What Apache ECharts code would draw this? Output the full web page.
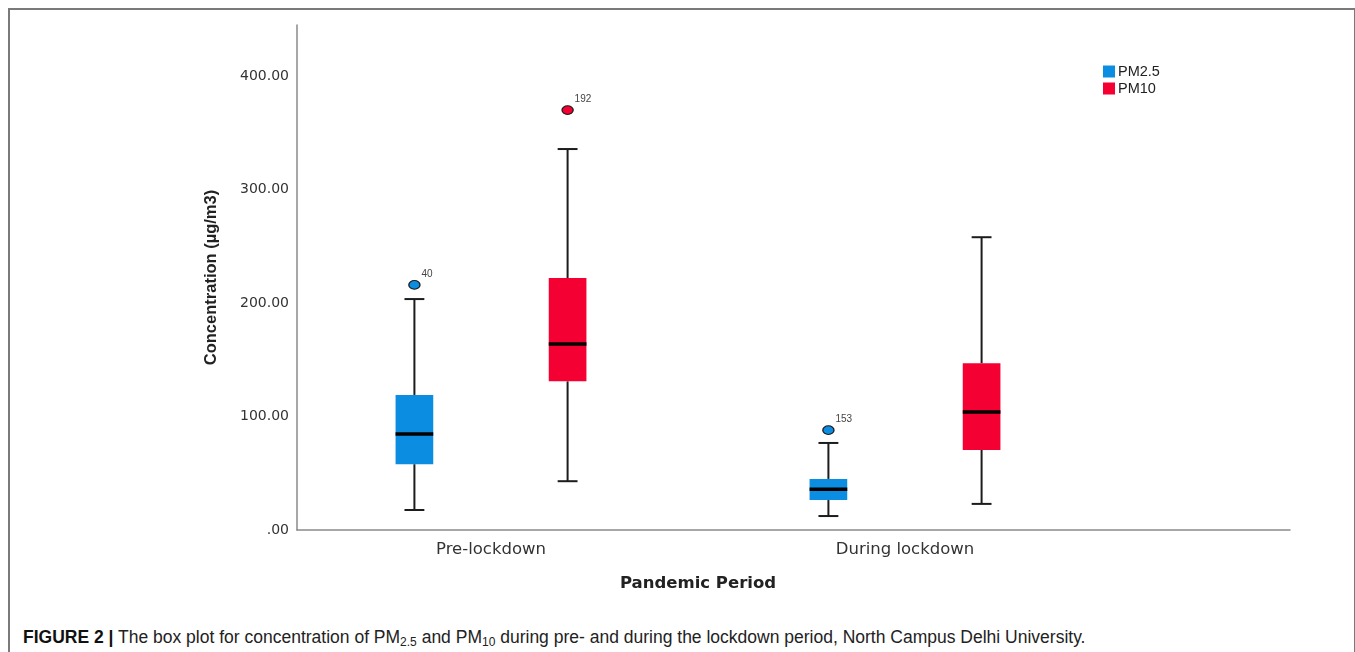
<!DOCTYPE html>
<html>
<head>
<meta charset="utf-8">
<title>PM2.5 and PM10 box plot</title>
<script src="https://cdn.jsdelivr.net/npm/echarts@6/dist/echarts.min.js"></script>
<style>
  html, body { margin: 0; padding: 0; background: #fff; }
  #wrap { position: relative; width: 1355px; height: 652px; overflow: hidden; }
  #frame {
    position: absolute; left: 8px; top: 8px; width: 1344px; height: 660px;
    border-top: 2px solid #7a7a7a; border-left: 2px solid #7a7a7a; border-right: 2px solid #7a7a7a;
  }
  #chart { position: absolute; left: 0; top: 0; width: 1355px; height: 610px; }
  #caption {
    position: absolute; left: 23px; top: 627px; white-space: nowrap;
    font-family: 'Liberation Sans', Arial, sans-serif; font-size: 17.5px; color: #222;
  }
  #caption b { font-weight: bold; color: #111; }
  #caption sub { font-size: 12px; vertical-align: -3px; line-height: 0; }
</style>
</head>
<body>
<div id="wrap">
  <div id="frame"></div>
  <div id="chart"></div>
  <div id="caption"><b>FIGURE 2 |</b> The box plot for concentration of PM<sub>2.5</sub> and PM<sub>10</sub> during pre- and during the lockdown period, North Campus Delhi University.</div>
</div>
<script>
// Pandemic periods on the horizontal axis
const categories = ['Pre-lockdown', 'During lockdown'];
const seriesNames = ['PM2.5', 'PM10'];
const seriesColors = ['#0b8ee2', '#f50032'];

// Box statistics per period: [min whisker, Q1, median, Q3, max whisker] (µg/m3)
const pm25Stats = [
  [17.6, 58.0, 84.6, 119.0, 203.5],
  [12.3, 26.4, 36.0, 45.0, 76.7]
];
const pm10Stats = [
  [43.0, 131.0, 164.0, 222.0, 335.7],
  [23.0, 70.5, 104.0, 147.0, 258.0]
];

// Outlying cases: [period index, value, case number]
const pm25Outliers = [
  [0, 216.0, '40'],
  [1, 88.0, '153']
];
const pm10Outliers = [
  [0, 370.0, '192']
];

// Value axis range and labelled ticks
const yMin = 0;
const yMax = 445;
const yTickStep = 100;

// Box layout as fractions of one category band
const DODGE = 0.185;   // offset of each box from the band centre
const BOX_W = 0.091;   // box width
const CAP_W = 0.048;   // whisker cap width
const INK = '#1c1c1c';

function boxRenderer(sign, color) {
  return function (params, api) {
    const cat = api.value(0);
    const band = api.size([1, 0])[0];
    const cx = api.coord([cat, 0])[0] + sign * band * DODGE;
    const hw = band * BOX_W / 2;
    const cw = band * CAP_W / 2;
    const y = [1, 2, 3, 4, 5].map(function (d) { return api.coord([cat, api.value(d)])[1]; });
    const lineStyle = { stroke: INK, lineWidth: 2 };
    return {
      type: 'group',
      children: [
        { type: 'line', shape: { x1: cx, y1: y[4], x2: cx, y2: y[3] }, style: lineStyle },
        { type: 'line', shape: { x1: cx, y1: y[1], x2: cx, y2: y[0] }, style: lineStyle },
        { type: 'line', shape: { x1: cx - cw, y1: y[4], x2: cx + cw, y2: y[4] }, style: lineStyle },
        { type: 'line', shape: { x1: cx - cw, y1: y[0], x2: cx + cw, y2: y[0] }, style: lineStyle },
        { type: 'rect', shape: { x: cx - hw, y: y[3], width: hw * 2, height: y[1] - y[3] }, style: { fill: color } },
        { type: 'line', shape: { x1: cx - hw, y1: y[2], x2: cx + hw, y2: y[2] }, style: { stroke: '#000', lineWidth: 3.5 } }
      ]
    };
  };
}

function outlierRenderer(sign, color, list) {
  return function (params, api) {
    const cat = api.value(0);
    const band = api.size([1, 0])[0];
    const p = api.coord([cat, api.value(1)]);
    const cx = p[0] + sign * band * DODGE;
    return {
      type: 'group',
      children: [
        { type: 'circle', x: cx, y: p[1], scaleY: 0.78, shape: { cx: 0, cy: 0, r: 5.6 },
          style: { fill: color, stroke: INK, lineWidth: 1.3 } },
        { type: 'text', x: cx + 7, y: p[1] - 11,
          style: { text: list[params.dataIndex][2], fill: '#444', fontSize: 10,
                   fontFamily: 'Liberation Sans, Arial, sans-serif', verticalAlign: 'middle' } }
      ]
    };
  };
}

function boxData(stats) {
  return stats.map(function (s, i) { return [i].concat(s); });
}
function outlierData(list) {
  return list.map(function (o) { return [o[0], o[1]]; });
}

const chart = echarts.init(document.getElementById('chart'), null, { renderer: 'canvas' });

chart.setOption({
  animation: false,
  backgroundColor: 'transparent',
  legend: {
    data: seriesNames,
    orient: 'vertical',
    left: 1103,
    top: 64,
    icon: 'rect',
    itemWidth: 12,
    itemHeight: 12,
    itemGap: 2,
    padding: 0,
    selectedMode: false,
    textStyle: { fontFamily: 'Liberation Sans, Arial, sans-serif', fontSize: 14.5, color: '#222', padding: [0, 0, 0, -2] }
  },
  grid: [
    // plotting band for the boxes
    { left: 284, top: 25, width: 828, height: 505 },
    // axis frame
    { left: 297, top: 25, width: 993, height: 505 }
  ],
  xAxis: [
    {
      type: 'category', gridIndex: 0, data: categories,
      axisLine: { show: false }, axisTick: { show: false }, splitLine: { show: false },
      axisLabel: { color: '#333', fontSize: 16.5, margin: 11, fontFamily: 'DejaVu Sans, sans-serif' },
      name: 'Pandemic Period', nameLocation: 'middle', nameGap: 45,
      nameTextStyle: { fontFamily: 'DejaVu Sans, sans-serif', fontWeight: 'bold', fontSize: 16.5, color: '#222' }
    },
    {
      type: 'value', gridIndex: 1, min: 0, max: 1,
      axisLine: { show: true, lineStyle: { color: '#8a8a8a', width: 1.5 } },
      axisTick: { show: false }, axisLabel: { show: false }, splitLine: { show: false }
    }
  ],
  yAxis: [
    { type: 'value', gridIndex: 0, min: yMin, max: yMax, show: false },
    {
      type: 'value', gridIndex: 1, min: yMin, max: yMax, interval: yTickStep,
      axisLine: { show: true, lineStyle: { color: '#8a8a8a', width: 1.5 } },
      axisTick: { show: false }, splitLine: { show: false },
      axisLabel: {
        color: '#333', fontSize: 14, margin: 8, fontFamily: 'DejaVu Sans, sans-serif',
        showMaxLabel: false,
        formatter: function (v) {
          if (v % yTickStep !== 0) return '';
          return v === 0 ? '.00' : v.toFixed(2);
        }
      },
      name: 'Concentration (µg/m3)', nameLocation: 'middle', nameGap: 77,
      nameTextStyle: { fontFamily: "'Liberation Sans', Arial, sans-serif",
                       fontWeight: 'bold', fontSize: 16.5, color: '#222' }
    }
  ],
  series: [
    {
      name: seriesNames[0], type: 'custom', xAxisIndex: 0, yAxisIndex: 0,
      itemStyle: { color: seriesColors[0] },
      encode: { x: 0, y: [1, 2, 3, 4, 5] },
      renderItem: boxRenderer(-1, seriesColors[0]), data: boxData(pm25Stats)
    },
    {
      name: seriesNames[1], type: 'custom', xAxisIndex: 0, yAxisIndex: 0,
      itemStyle: { color: seriesColors[1] },
      encode: { x: 0, y: [1, 2, 3, 4, 5] },
      renderItem: boxRenderer(1, seriesColors[1]), data: boxData(pm10Stats)
    },
    {
      name: seriesNames[0], type: 'custom', xAxisIndex: 0, yAxisIndex: 0,
      itemStyle: { color: seriesColors[0] },
      encode: { x: 0, y: 1 },
      renderItem: outlierRenderer(-1, seriesColors[0], pm25Outliers), data: outlierData(pm25Outliers)
    },
    {
      name: seriesNames[1], type: 'custom', xAxisIndex: 0, yAxisIndex: 0,
      itemStyle: { color: seriesColors[1] },
      encode: { x: 0, y: 1 },
      renderItem: outlierRenderer(1, seriesColors[1], pm10Outliers), data: outlierData(pm10Outliers)
    }
  ]
});
</script>
</body>
</html>
